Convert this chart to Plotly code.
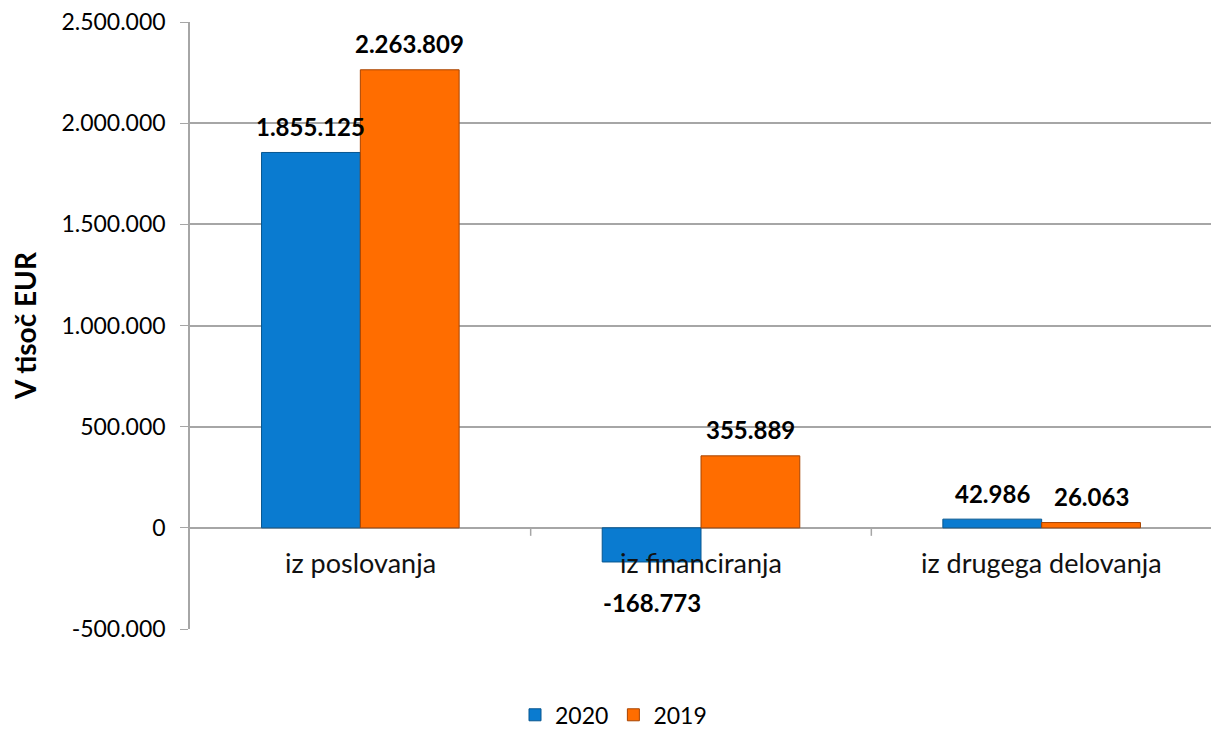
import plotly.graph_objects as go

categories = ["iz poslovanja", "iz financiranja", "iz drugega delovanja"]
values_2020 = [1855125, -168773, 42986]
values_2019 = [2263809, 355889, 26063]
y_ticks = [-500000, 0, 500000, 1000000, 1500000, 2000000, 2500000]


def fmt(v):
    return f"{v:,}".replace(",", ".")


FONT = "Lato, Carlito, 'Liberation Sans', sans-serif"
W, H = 1211, 723
ML, MR, MT, MB = 182, 7, 14, 102
BARGAP = 0.42
cat_w = (W - ML - MR) / len(categories)
half_bar = cat_w * (1 - BARGAP) / 4  # offset from category centre to each bar's centre

fig = go.Figure()
fig.add_trace(go.Bar(
    x=categories, y=values_2020, name="2020",
    marker=dict(color="#0a7bd0", line=dict(color="#07568f", width=1)),
))
fig.add_trace(go.Bar(
    x=categories, y=values_2019, name="2019",
    marker=dict(color="#ff6d00", line=dict(color="#a84400", width=1)),
))

label_font = dict(family=FONT, size=24, color="black", weight="bold")
for vals, sign in ((values_2020, -1), (values_2019, 1)):
    for c, v in zip(categories, vals):
        fig.add_annotation(x=c, y=v, xref="x", yref="y", text=fmt(v), showarrow=False,
                           xshift=sign * half_bar, yanchor="middle",
                           yshift=26 if v >= 0 else -41, font=label_font)

for c in categories:
    fig.add_annotation(x=c, y=0, xref="x", yref="y", text=c, showarrow=False,
                       yanchor="middle", yshift=-35,
                       font=dict(family=FONT, size=27, color="#111"))

# category boundary tick marks on the zero line
for b in [i + 0.5 for i in range(len(categories) - 1)]:
    fig.add_shape(type="line", xref="x", yref="y", x0=b, x1=b,
                  ysizemode="pixel", yanchor=0, y0=0, y1=-8,
                  line=dict(color="#a6a6a6", width=1.5))

fig.update_layout(
    width=W, height=H,
    separators=",.",
    barmode="group", bargap=BARGAP, bargroupgap=0,
    plot_bgcolor="white", paper_bgcolor="white",
    margin=dict(l=ML, r=MR, t=MT, b=MB, autoexpand=False),
    font=dict(family=FONT, size=22, color="black"),
    legend=dict(orientation="h", xref="container", x=0.5, xanchor="center",
                y=-0.106, yanchor="top",
                font=dict(family=FONT, size=23), itemwidth=30),
)
fig.update_xaxes(showticklabels=False, showgrid=False, zeroline=False, showline=False,
                 automargin=False)
fig.update_yaxes(range=[-500000, 2500000], tickvals=y_ticks, ticktext=[fmt(t) for t in y_ticks],
                 automargin=False, ticklabeloverflow="allow",
                 showgrid=True, gridcolor="#a6a6a6", gridwidth=1.5,
                 zeroline=True, zerolinecolor="#a6a6a6", zerolinewidth=1.5,
                 showline=True, linecolor="#a6a6a6", linewidth=1.5,
                 ticks="outside", ticklen=8, tickcolor="#a6a6a6", ticklabelstandoff=10,
                 tickfont=dict(family=FONT, size=23, color="black"),
                 title=dict(text="<b>V tisoč EUR</b>", font=dict(family=FONT, size=28), standoff=20))

fig.write_html("out.html")
